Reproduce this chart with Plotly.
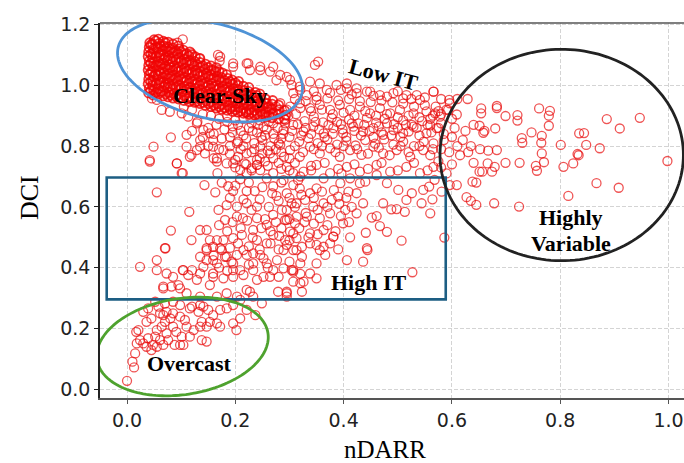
import numpy as np
import plotly.graph_objects as go

# ---------------- data (nDARR, DCI) ----------------
clear_sky = [
    (0.040,0.975),(0.041,0.990),(0.039,1.005),(0.040,1.020),(0.041,1.035),(0.039,1.050),(0.040,1.065),(0.041,1.080),(0.039,1.095),(0.040,1.110),(0.041,1.125),(0.042,1.140),
    (0.048,0.968),(0.049,0.984),(0.047,1.000),(0.048,1.015),(0.049,1.030),(0.047,1.046),(0.048,1.061),(0.049,1.076),(0.047,1.091),(0.048,1.106),(0.049,1.121),(0.047,1.136),(0.050,1.150),
    (0.058,0.972),(0.057,0.988),(0.059,1.003),(0.058,1.018),(0.057,1.033),(0.059,1.048),(0.058,1.063),(0.057,1.078),(0.059,1.093),(0.058,1.108),(0.057,1.123),(0.059,1.138),(0.058,1.152),
    (0.067,0.965),(0.066,0.980),(0.068,0.995),(0.067,1.010),(0.066,1.025),(0.068,1.040),(0.067,1.055),(0.066,1.070),(0.068,1.085),(0.067,1.100),(0.066,1.115),(0.068,1.130),(0.067,1.145),
    (0.076,0.962),(0.077,0.977),(0.075,0.992),(0.076,1.007),(0.077,1.022),(0.075,1.037),(0.076,1.052),(0.077,1.067),(0.075,1.082),(0.076,1.097),(0.077,1.112),(0.075,1.127),(0.076,1.142),
    (0.085,0.958),(0.086,0.973),(0.084,0.988),(0.085,1.003),(0.086,1.018),(0.084,1.033),(0.085,1.048),(0.086,1.063),(0.084,1.078),(0.085,1.093),(0.086,1.108),(0.084,1.123),(0.085,1.136),
    (0.095,0.955),(0.094,0.970),(0.096,0.985),(0.095,1.000),(0.094,1.015),(0.096,1.030),(0.095,1.045),(0.094,1.060),(0.096,1.075),(0.095,1.090),(0.094,1.105),(0.096,1.120),(0.095,1.130),
    (0.105,0.950),(0.106,0.966),(0.104,0.981),(0.105,0.996),(0.106,1.011),(0.104,1.026),(0.105,1.041),(0.106,1.056),(0.104,1.071),(0.105,1.086),(0.106,1.101),(0.104,1.116),
    (0.115,0.946),(0.114,0.962),(0.116,0.977),(0.115,0.992),(0.114,1.007),(0.116,1.022),(0.115,1.037),(0.114,1.052),(0.116,1.067),(0.115,1.082),(0.114,1.097),(0.116,1.110),
    (0.125,0.944),(0.126,0.959),(0.124,0.974),(0.125,0.989),(0.126,1.004),(0.124,1.019),(0.125,1.034),(0.126,1.049),(0.124,1.064),(0.125,1.079),(0.126,1.094),
    (0.135,0.940),(0.134,0.955),(0.136,0.970),(0.135,0.985),(0.134,1.000),(0.136,1.015),(0.135,1.030),(0.134,1.045),(0.136,1.060),(0.135,1.075),(0.134,1.088),
    (0.145,0.934),(0.146,0.949),(0.144,0.964),(0.145,0.979),(0.146,0.994),(0.144,1.009),(0.145,1.024),(0.146,1.039),(0.144,1.054),(0.145,1.070),
    (0.155,0.930),(0.154,0.945),(0.156,0.960),(0.155,0.975),(0.154,0.990),(0.156,1.005),(0.155,1.020),(0.154,1.035),(0.156,1.050),(0.155,1.064),
    (0.165,0.925),(0.166,0.940),(0.164,0.955),(0.165,0.970),(0.166,0.985),(0.164,1.000),(0.165,1.015),(0.166,1.030),(0.164,1.045),(0.165,1.058),
    (0.175,0.921),(0.174,0.936),(0.176,0.951),(0.175,0.966),(0.174,0.981),(0.176,0.996),(0.175,1.011),(0.174,1.026),(0.176,1.041),
    (0.185,0.918),(0.186,0.933),(0.184,0.948),(0.185,0.963),(0.186,0.978),(0.184,0.993),(0.185,1.008),(0.186,1.023),(0.184,1.035),
    (0.195,0.914),(0.194,0.929),(0.196,0.944),(0.195,0.959),(0.194,0.974),(0.196,0.989),(0.195,1.004),(0.194,1.018),
    (0.205,0.912),(0.206,0.927),(0.204,0.942),(0.205,0.957),(0.206,0.972),(0.204,0.987),(0.205,1.000),(0.206,1.013),
    (0.215,0.908),(0.214,0.923),(0.216,0.938),(0.215,0.953),(0.214,0.968),(0.216,0.983),(0.215,0.997),
    (0.225,0.905),(0.226,0.920),(0.224,0.935),(0.225,0.950),(0.226,0.965),(0.224,0.980),(0.225,0.993),
    (0.236,0.902),(0.235,0.917),(0.237,0.932),(0.236,0.947),(0.235,0.962),(0.237,0.977),
    (0.246,0.899),(0.247,0.914),(0.245,0.929),(0.246,0.944),(0.247,0.959),(0.245,0.972),
    (0.257,0.896),(0.256,0.911),(0.258,0.926),(0.257,0.941),(0.256,0.955),
    (0.268,0.893),(0.269,0.908),(0.267,0.923),(0.268,0.938),(0.269,0.950),
    (0.280,0.890),(0.279,0.905),(0.281,0.920),(0.280,0.935),
    (0.292,0.887),(0.293,0.902),(0.291,0.917),
    # in-between points of the dense core
    (0.044,0.983),(0.044,1.013),(0.044,1.043),(0.044,1.073),(0.044,1.103),(0.044,1.133),
    (0.053,0.976),(0.053,1.006),(0.053,1.036),(0.053,1.066),(0.053,1.096),(0.053,1.126),(0.053,1.146),
    (0.062,0.980),(0.062,1.010),(0.062,1.040),(0.062,1.070),(0.062,1.100),(0.062,1.130),
    (0.071,0.972),(0.071,1.002),(0.071,1.032),(0.071,1.062),(0.071,1.092),(0.071,1.122),(0.071,1.140),
    (0.080,0.968),(0.080,0.998),(0.080,1.028),(0.080,1.058),(0.080,1.088),(0.080,1.118),
    (0.090,0.964),(0.090,0.994),(0.090,1.024),(0.090,1.054),(0.090,1.084),(0.090,1.114),
    (0.100,0.960),(0.100,0.990),(0.100,1.020),(0.100,1.050),(0.100,1.080),(0.100,1.110),
    (0.110,0.956),(0.110,0.986),(0.110,1.016),(0.110,1.046),(0.110,1.076),(0.110,1.104),
    (0.120,0.952),(0.120,0.982),(0.120,1.012),(0.120,1.042),(0.120,1.072),(0.120,1.100),
    (0.130,0.948),(0.130,0.978),(0.130,1.008),(0.130,1.038),(0.130,1.068),
    (0.140,0.944),(0.140,0.974),(0.140,1.004),(0.140,1.034),(0.140,1.064),
    (0.150,0.940),(0.150,0.970),(0.150,1.000),(0.150,1.030),(0.150,1.058),
    (0.160,0.935),(0.160,0.965),(0.160,0.995),(0.160,1.025),(0.160,1.050),
    (0.170,0.930),(0.170,0.960),(0.170,0.990),(0.170,1.020),(0.170,1.045),
    (0.180,0.926),(0.180,0.956),(0.180,0.986),(0.180,1.016),
    (0.190,0.922),(0.190,0.952),(0.190,0.982),(0.190,1.012),
    (0.200,0.920),(0.200,0.950),(0.200,0.980),(0.200,1.008),
    (0.210,0.915),(0.210,0.945),(0.210,0.975),(0.220,0.912),(0.220,0.942),(0.220,0.972),
    (0.230,0.910),(0.230,0.940),(0.230,0.970),(0.240,0.906),(0.240,0.936),(0.240,0.966),
    (0.250,0.905),(0.250,0.935),(0.262,0.900),(0.262,0.930),
]

scattered_top = [
    (0.103,1.151),(0.093,1.140),(0.119,1.105),(0.135,1.089),(0.168,1.100),(0.171,1.080),(0.196,1.072),
    (0.221,1.072),(0.227,1.050),(0.246,1.061),(0.264,1.045),(0.276,1.017),(0.295,1.028),(0.304,1.001),
    (0.046,0.957),(0.055,0.952),(0.064,0.919),(0.079,0.913),(0.101,0.908),(0.113,0.897),
]

low_it = [
    (0.172,1.094),(0.196,1.061),(0.224,1.072),(0.246,1.050),(0.270,1.061),(0.283,1.034),(0.347,1.067),(0.353,1.078),
    (0.301,1.018),(0.319,0.996),(0.338,1.012),(0.356,1.006),(0.369,0.985),(0.387,1.001),(0.406,1.006),(0.424,0.990),
    (0.443,0.979),(0.307,0.974),(0.332,0.968),(0.350,0.963),(0.467,0.968),(0.492,0.974),(0.516,0.968),(0.541,0.952),(0.566,0.979),
    (0.283,0.941),(0.301,0.930),(0.319,0.941),(0.338,0.925),(0.356,0.936),(0.375,0.919),(0.393,0.936),(0.412,0.919),
    (0.430,0.930),(0.449,0.908),(0.467,0.925),(0.486,0.908),(0.504,0.919),(0.529,0.908),(0.553,0.914),(0.578,0.897),(0.596,0.941),
    (0.252,0.864),(0.270,0.875),(0.289,0.853),(0.307,0.870),(0.326,0.848),(0.344,0.864),(0.363,0.842),(0.381,0.859),
    (0.399,0.842),(0.418,0.864),(0.436,0.848),(0.455,0.859),(0.473,0.837),(0.492,0.853),(0.510,0.842),(0.529,0.864),(0.553,0.842),(0.572,0.859),
    (0.110,0.837),(0.135,0.798),(0.159,0.820),(0.178,0.787),(0.203,0.809),(0.221,0.776),(0.246,0.798),(0.264,0.776),
    (0.283,0.804),(0.301,0.787),(0.319,0.765),(0.338,0.798),(0.356,0.776),(0.375,0.793),(0.393,0.765),(0.412,0.787),
    (0.433,0.771),(0.455,0.798),(0.473,0.776),(0.498,0.787),(0.523,0.765),(0.547,0.787),(0.566,0.809),
    (0.116,0.765),(0.184,0.743),(0.209,0.722),(0.240,0.738),(0.270,0.711),(0.295,0.732),(0.326,0.716),(0.350,0.738),
    (0.375,0.711),(0.406,0.732),(0.430,0.716),(0.461,0.738),(0.486,0.716),(0.516,0.732),(0.541,0.711),(0.566,0.732),
    (0.312,0.905),(0.328,0.882),(0.345,0.897),(0.362,0.878),(0.378,0.893),(0.395,0.872),(0.410,0.887),(0.427,0.875),
    (0.443,0.893),(0.460,0.877),(0.476,0.890),(0.493,0.872),(0.510,0.885),(0.526,0.870),(0.545,0.882),(0.560,0.868),(0.580,0.875),
    (0.300,0.830),(0.318,0.815),(0.335,0.826),(0.352,0.810),(0.370,0.822),(0.388,0.805),(0.405,0.818),(0.422,0.802),
    (0.440,0.820),(0.458,0.808),(0.475,0.822),(0.492,0.805),(0.510,0.815),(0.530,0.800),(0.548,0.815),(0.565,0.790),(0.585,0.820),
    (0.262,0.920),(0.275,0.905),(0.290,0.890),(0.260,0.940),(0.310,0.955),(0.330,0.948),(0.350,0.952),(0.370,0.957),
    (0.390,0.950),(0.410,0.955),(0.430,0.948),(0.450,0.945),(0.470,0.950),(0.490,0.944),(0.510,0.940),(0.530,0.930),
    (0.550,0.935),(0.570,0.930),(0.590,0.920),(0.600,0.890),(0.605,0.860),(0.600,0.830),(0.610,0.800),(0.615,0.770),
    (0.600,0.740),(0.590,0.710),(0.575,0.750),(0.595,0.780),
    (0.449,0.979),(0.480,0.963),(0.510,0.957),(0.535,0.968),(0.566,0.979),(0.406,0.990),(0.424,0.974),(0.569,0.908),
    (0.575,0.915),(0.565,0.900),(0.595,0.952),(0.593,0.919),(0.610,0.955),(0.629,0.955),(0.609,0.904),
    (0.105,0.930),(0.120,0.920),(0.140,0.905),(0.155,0.900),(0.170,0.890),(0.185,0.900),(0.200,0.885),(0.215,0.890),
    (0.230,0.875),(0.245,0.885),(0.130,0.880),(0.150,0.860),(0.165,0.870),(0.180,0.855),(0.195,0.865),(0.210,0.850),
    (0.225,0.860),(0.240,0.845),(0.255,0.835),(0.270,0.840),(0.285,0.825),(0.120,0.850),(0.140,0.830),(0.160,0.840),
    (0.175,0.825),(0.190,0.830),(0.205,0.815),(0.220,0.825),(0.235,0.810),(0.250,0.820),(0.265,0.800),(0.280,0.810),
    (0.150,0.800),(0.170,0.790),(0.190,0.800),(0.210,0.790),(0.230,0.780),(0.250,0.775),(0.270,0.760),(0.285,0.780),
    (0.160,0.760),(0.200,0.755),(0.220,0.740),(0.240,0.755),(0.260,0.735),(0.280,0.745),(0.300,0.760),(0.300,0.720),
    (0.320,0.700),(0.340,0.720),
    (0.129,0.875),(0.141,0.853),(0.153,0.842),(0.135,0.820),(0.159,0.798),(0.144,0.776),(0.166,0.760),(0.129,0.787),(0.110,0.798),
    (0.049,0.798),(0.042,0.754),(0.092,0.743),(0.081,0.829),(0.119,0.771),(0.103,0.711),
]

low_it_dense = [
    (0.185,0.880),(0.195,0.845),(0.205,0.870),(0.215,0.835),(0.228,0.892),(0.232,0.850),(0.242,0.870),(0.248,0.830),
    (0.258,0.855),(0.262,0.880),(0.272,0.825),(0.278,0.860),(0.288,0.840),(0.292,0.875),(0.298,0.900),(0.305,0.850),
    (0.315,0.872),(0.322,0.835),(0.330,0.860),(0.340,0.840),(0.348,0.880),(0.355,0.855),(0.365,0.830),(0.372,0.870),
    (0.380,0.840),(0.388,0.880),(0.398,0.855),(0.405,0.830),(0.415,0.875),(0.420,0.850),(0.432,0.835),(0.438,0.870),
    (0.448,0.850),(0.455,0.830),(0.465,0.865),(0.470,0.845),(0.480,0.875),(0.488,0.835),(0.500,0.860),(0.505,0.830),
    (0.515,0.870),(0.520,0.848),(0.535,0.860),(0.540,0.835),(0.555,0.870),(0.562,0.845),(0.575,0.860),(0.585,0.840),
    (0.200,0.930),(0.220,0.910),(0.240,0.925),(0.255,0.905),(0.275,0.930),(0.295,0.920),(0.320,0.925),(0.340,0.915),
    (0.360,0.920),(0.380,0.905),(0.400,0.910),(0.420,0.900),(0.440,0.915),(0.460,0.900),(0.480,0.905),(0.500,0.895),
    (0.520,0.900),(0.540,0.895),(0.560,0.890),(0.580,0.905),
    (0.190,0.775),(0.205,0.765),(0.215,0.800),(0.235,0.790),(0.245,0.760),(0.260,0.785),(0.275,0.790),(0.290,0.765),
    (0.310,0.800),(0.325,0.780),(0.345,0.790),(0.360,0.800),(0.385,0.780),(0.400,0.800),(0.425,0.790),(0.445,0.775),
    (0.465,0.795),(0.485,0.770),(0.505,0.800),(0.520,0.780),(0.540,0.800),(0.560,0.770),(0.580,0.790),
    (0.200,0.730),(0.230,0.720),(0.255,0.750),(0.285,0.725),(0.310,0.745),(0.340,0.735),(0.365,0.745),(0.390,0.725),
    (0.420,0.740),(0.445,0.725),(0.470,0.745),(0.500,0.720),(0.530,0.745),(0.555,0.720),(0.580,0.730),
    (0.320,0.985),(0.345,0.980),(0.375,0.975),(0.395,0.985),(0.415,0.970),(0.455,0.965),(0.500,0.980),(0.525,0.955),
    (0.550,0.960),(0.580,0.955),
]

high_it = [
    (0.042,0.749),(0.092,0.743),(0.101,0.711),(0.055,0.648),(0.143,0.672),(0.163,0.648),(0.167,0.711),(0.187,0.668),
    (0.196,0.652),(0.209,0.691),(0.221,0.652),(0.236,0.652),(0.184,0.606),(0.203,0.601),(0.221,0.612),(0.240,0.601),
    (0.169,0.590),(0.181,0.557),(0.203,0.568),(0.214,0.563),(0.240,0.563),(0.115,0.584),(0.135,0.524),(0.147,0.524),
    (0.119,0.491),(0.153,0.491),(0.081,0.522),(0.071,0.464),(0.166,0.491),(0.178,0.491),(0.196,0.497),(0.212,0.508),
    (0.233,0.524),(0.240,0.491),(0.147,0.464),(0.159,0.469),(0.175,0.458),(0.135,0.436),(0.147,0.425),(0.166,0.414),
    (0.181,0.436),(0.193,0.420),(0.203,0.442),(0.215,0.458),(0.233,0.447),(0.252,0.431),(0.258,0.480),(0.270,0.508),
    (0.281,0.505),(0.295,0.475),(0.307,0.513),(0.313,0.458),(0.270,0.392),(0.289,0.398),(0.307,0.354),(0.252,0.370),
    (0.233,0.392),(0.215,0.376),(0.196,0.392),(0.178,0.365),(0.159,0.370),(0.135,0.381),(0.104,0.392),(0.113,0.376),
    (0.095,0.343),(0.067,0.338),(0.227,0.321),(0.249,0.283),(0.203,0.305),(0.295,0.305),(0.279,0.321),
    (0.221,0.711),(0.230,0.727),(0.246,0.721),(0.258,0.694),(0.270,0.668),(0.276,0.636),(0.295,0.645),(0.304,0.612),
    (0.286,0.590),(0.270,0.574),(0.258,0.541),(0.295,0.557),(0.313,0.568),(0.307,0.711),(0.166,0.749),(0.196,0.743),
    (0.217,0.743),(0.240,0.738),
    (0.289,0.688),(0.307,0.672),(0.319,0.661),(0.338,0.645),(0.350,0.661),(0.329,0.623),(0.313,0.612),(0.295,0.590),
    (0.344,0.601),(0.363,0.612),(0.292,0.557),(0.310,0.546),(0.332,0.568),(0.356,0.563),(0.375,0.579),(0.363,0.524),
    (0.338,0.513),(0.313,0.497),(0.301,0.519),(0.381,0.502),(0.399,0.546),(0.390,0.634),(0.403,0.590),(0.424,0.579),
    (0.323,0.436),(0.292,0.491),(0.316,0.688),(0.363,0.694),(0.396,0.710),(0.412,0.694),(0.440,0.683),(0.461,0.705),
    (0.480,0.678),(0.501,0.656),(0.526,0.645),(0.547,0.656),(0.516,0.623),
    (0.507,0.489),(0.586,0.499),(0.527,0.385),(0.443,0.464),(0.444,0.458),(0.436,0.420),(0.406,0.425),(0.412,0.500),
    (0.441,0.515),(0.480,0.518),(0.467,0.537),(0.513,0.584),(0.544,0.612),(0.560,0.579),(0.564,0.625),(0.488,0.592),
    (0.498,0.593),(0.461,0.570),(0.452,0.565),(0.473,0.612),(0.436,0.612),(0.424,0.645),(0.430,0.678),(0.409,0.650),
    (0.394,0.678),(0.378,0.623),(0.356,0.458),(0.366,0.442),(0.323,0.469),(0.307,0.387),(0.304,0.392),(0.326,0.354),
    (0.350,0.365),(0.295,0.321),(0.323,0.321),(0.581,0.650),(0.558,0.667),(0.596,0.672),(0.568,0.689),
    (0.024,0.403),(0.055,0.425),(0.070,0.464),(0.055,0.392),(0.073,0.381),(0.085,0.370),(0.067,0.332),(0.082,0.338),
    (0.098,0.332),(0.103,0.392),(0.120,0.392),(0.129,0.360),(0.141,0.403),(0.159,0.425),(0.159,0.381),(0.147,0.458),
    (0.172,0.464),(0.184,0.436),(0.196,0.414),(0.209,0.392),(0.196,0.370),(0.221,0.442),(0.233,0.414),(0.246,0.442),
    (0.258,0.414),(0.264,0.370),(0.277,0.425),(0.289,0.458),(0.307,0.458),(0.320,0.414),(0.338,0.480),(0.363,0.469),
    (0.381,0.502),(0.350,0.414),(0.295,0.316),(0.320,0.349),(0.338,0.381),(0.307,0.392),(0.221,0.327),(0.233,0.305),
    (0.209,0.294),(0.184,0.316),(0.166,0.305),(0.153,0.343),(0.135,0.305),(0.120,0.272),(0.110,0.316),(0.141,0.272),
]

high_it_dense = [
    (0.175,0.680),(0.190,0.630),(0.200,0.670),(0.215,0.625),(0.225,0.680),(0.230,0.590),(0.245,0.625),(0.250,0.665),
    (0.262,0.600),(0.268,0.645),(0.280,0.620),(0.285,0.680),(0.300,0.630),(0.310,0.600),(0.322,0.640),(0.330,0.580),
    (0.345,0.630),(0.352,0.590),(0.360,0.650),(0.370,0.600),(0.382,0.655),(0.392,0.610),(0.405,0.630),(0.415,0.600),
    (0.170,0.540),(0.185,0.520),(0.195,0.550),(0.210,0.530),(0.222,0.555),(0.232,0.500),(0.248,0.530),(0.255,0.560),
    (0.265,0.520),(0.275,0.550),(0.285,0.530),(0.300,0.560),(0.318,0.530),(0.328,0.550),(0.345,0.545),(0.352,0.510),
    (0.370,0.540),(0.385,0.520),(0.395,0.570),(0.410,0.550),
    (0.160,0.440),(0.190,0.465),(0.205,0.480),(0.225,0.470),(0.245,0.460),(0.265,0.480),(0.280,0.460),(0.300,0.490),
    (0.335,0.500),(0.350,0.475),(0.375,0.480),(0.390,0.460),
    (0.170,0.400),(0.185,0.390),(0.225,0.410),(0.240,0.360),(0.260,0.400),(0.280,0.370),(0.300,0.420),(0.320,0.380),
]

overcast = [
    (0.000,0.028),(0.013,0.072),(0.010,0.091),(0.015,0.118),(0.018,0.151),(0.024,0.162),(0.017,0.189),(0.021,0.195),
    (0.030,0.151),(0.036,0.140),(0.039,0.168),(0.048,0.146),(0.045,0.129),(0.055,0.140),(0.061,0.162),(0.067,0.146),
    (0.052,0.173),(0.055,0.195),(0.064,0.206),(0.070,0.222),(0.080,0.233),(0.067,0.244),(0.073,0.255),(0.085,0.250),
    (0.098,0.239),(0.107,0.228),(0.085,0.206),(0.091,0.189),(0.101,0.173),(0.104,0.146),(0.073,0.184),(0.076,0.162),
    (0.045,0.233),(0.036,0.222),(0.030,0.255),(0.039,0.266),(0.052,0.288),(0.061,0.250),(0.088,0.146),(0.098,0.146),
    (0.110,0.206),(0.123,0.195),(0.135,0.206),(0.138,0.222),(0.147,0.206),(0.153,0.222),(0.166,0.217),(0.172,0.206),
    (0.138,0.162),(0.147,0.157),(0.116,0.173),(0.132,0.255),(0.150,0.261),(0.159,0.244),(0.172,0.261),(0.196,0.217),
    (0.202,0.195),(0.209,0.233),(0.221,0.261),(0.237,0.244),(0.196,0.277),(0.184,0.266),(0.135,0.277),(0.116,0.266),
    (0.098,0.277),(0.085,0.288),(0.070,0.282),(0.058,0.272),
]

highly_variable = [
    (0.683,0.932),(0.683,0.925),(0.654,0.924),(0.654,0.908),(0.699,0.899),(0.721,0.902),(0.721,0.884),(0.761,0.924),
    (0.781,0.916),(0.779,0.900),(0.779,0.867),(0.886,0.889),(0.910,0.858),(0.947,0.893),(0.651,0.867),(0.658,0.844),
    (0.660,0.850),(0.680,0.858),(0.747,0.845),(0.766,0.834),(0.729,0.826),(0.730,0.811),(0.765,0.811),(0.801,0.804),
    (0.835,0.842),(0.844,0.843),(0.848,0.804),(0.873,0.793),(0.832,0.774),(0.834,0.770),(0.766,0.776),(0.699,0.745),
    (0.725,0.745),(0.755,0.735),(0.757,0.719),(0.770,0.747),(0.806,0.732),(0.824,0.743),(0.998,0.751),(0.867,0.678),
    (0.908,0.663),(0.815,0.636),(0.724,0.601),(0.678,0.612),(0.652,0.790),(0.667,0.785),(0.683,0.787),(0.666,0.743),
    (0.679,0.732),(0.651,0.716),(0.656,0.716),(0.674,0.716),(0.638,0.683),(0.645,0.680),(0.627,0.632),(0.635,0.620),
    (0.645,0.607),(0.609,0.672),(0.630,0.780),(0.640,0.745),(0.625,0.850),(0.640,0.870),(0.620,0.820),(0.635,0.800),
]

other_regions = [scattered_top, low_it, low_it_dense, high_it, high_it_dense, overcast, highly_variable]
cs_ndarr = [p[0] for p in clear_sky]
cs_dci = [p[1] for p in clear_sky]
ndarr = [p[0] for r in other_regions for p in r]
dci = [p[1] for r in other_regions for p in r]

x_ticks = [0.0, 0.2, 0.4, 0.6, 0.8, 1.0]
y_ticks = [0.0, 0.2, 0.4, 0.6, 0.8, 1.0, 1.2]

# ---------------- layout geometry ----------------
W_FIG, H_FIG = 684, 463
L, T, PW, PH = 100, 23, 584, 375
X0, X1 = -0.0499, 1.0286
Y0, Y1 = -0.0286, 1.205


def px2x(px):
    return X0 + (px - L) / PW * (X1 - X0)


def py2y(py):
    return Y0 + (T + PH - py) / PH * (Y1 - Y0)


def ellipse_path(cx, cy, a, b, theta_deg, n=160):
    th = np.deg2rad(theta_deg)
    t = np.linspace(0, 2 * np.pi, n)
    px = cx + a * np.cos(t) * np.cos(th) - b * np.sin(t) * np.sin(th)
    py = cy + a * np.cos(t) * np.sin(th) + b * np.sin(t) * np.cos(th)
    pts = [f"{px2x(u):.5f},{py2y(v):.5f}" for u, v in zip(px, py)]
    return "M " + " L ".join(pts) + " Z"


fig = go.Figure()
fig.add_trace(go.Scatter(
    x=ndarr, y=dci, mode="markers",
    marker=dict(symbol="circle-open", size=9, color="rgba(232,12,12,0.70)",
                line=dict(width=1.3)),
    hoverinfo="skip", showlegend=False,
))
fig.add_trace(go.Scatter(
    x=cs_ndarr, y=cs_dci, mode="markers",
    marker=dict(symbol="circle-open", size=9, color="rgba(240,5,5,0.8)",
                line=dict(width=1.8)),
    hoverinfo="skip", showlegend=False,
))

shapes = [
    dict(type="line", xref="paper", yref="paper", x0=0, x1=1, y0=1, y1=1,
         line=dict(color="#555555", width=1.5)),
    dict(type="rect", xref="x", yref="y", x0=-0.0375, x1=0.5886, y0=0.296, y1=0.697,
         line=dict(color="#1d5e83", width=2.6)),
    dict(type="path", xref="x", yref="y", path=ellipse_path(210, 70.5, 94.7, 47.3, 14.4),
         line=dict(color="#4f93d6", width=2.8)),
    dict(type="path", xref="x", yref="y", path=ellipse_path(182.5, 346.5, 86.5, 48, -9),
         line=dict(color="#4ea22e", width=2.8)),
    dict(type="path", xref="x", yref="y", path=ellipse_path(561.7, 155, 121.7, 105.7, 0),
         line=dict(color="#222222", width=2.8)),
]

lab_font = dict(family="Liberation Serif, Times New Roman, serif", size=22, color="#000000")
title_font = dict(family="Liberation Serif, Times New Roman, serif", size=25, color="#000000")


def label(text, x, y, **kw):
    return dict(text=text, x=x, y=y, xref="x", yref="y", showarrow=False, font=lab_font,
                xanchor="center", yanchor="middle", **kw)


annotations = [
    label("<b>Clear-Sky</b>", 0.172, 0.968),
    label("<b>Low IT</b>", 0.473, 1.034, textangle=15),
    label("<b>Highly</b>", 0.820, 0.566),
    label("<b>Variable</b>", 0.820, 0.481),
    label("<b>High IT</b>", 0.447, 0.351),
    label("<b>Overcast</b>", 0.116, 0.0855),
    dict(text="DCI", x=(29 - L) / PW, y=(T + PH - 198) / PH, xref="paper", yref="paper", showarrow=False,
         xanchor="center", yanchor="middle", textangle=-90, font=dict(title_font, size=26)),
    dict(text="nDARR", x=(385 - L) / PW, y=(T + PH - 449) / PH, xref="paper", yref="paper", showarrow=False,
         xanchor="center", yanchor="middle", font=title_font),
]

fig.update_layout(
    width=W_FIG, height=H_FIG,
    margin=dict(l=L, r=W_FIG - L - PW, t=T, b=H_FIG - T - PH, pad=0),
    paper_bgcolor="white", plot_bgcolor="white",
    shapes=shapes, annotations=annotations,
    xaxis=dict(range=[X0, X1], tickvals=x_ticks, ticktext=[f"{v:.1f}" for v in x_ticks],
               showgrid=True, gridcolor="#d4d4d4", griddash="4px,2px", gridwidth=1,
               zeroline=False, showline=True, linecolor="#555555", linewidth=1.5,
               ticks="outside", ticklen=4, tickcolor="#555555", automargin=False,
               tickfont=dict(family="DejaVu Sans", size=19, color="#222222")),
    yaxis=dict(range=[Y0, Y1], tickvals=y_ticks, ticktext=[f"{v:.1f}" for v in y_ticks],
               showgrid=True, gridcolor="#d4d4d4", griddash="4px,2px", gridwidth=1,
               zeroline=False, showline=True, linecolor="#222222", linewidth=1.5,
               ticks="outside", ticklen=4, tickcolor="#222222", automargin=False,
               tickfont=dict(family="DejaVu Sans", size=19, color="#222222")),
)

fig.write_html("out.html", config={"displayModeBar": False},
               post_script="document.body.style.margin='0px';document.body.style.overflow='hidden';")
